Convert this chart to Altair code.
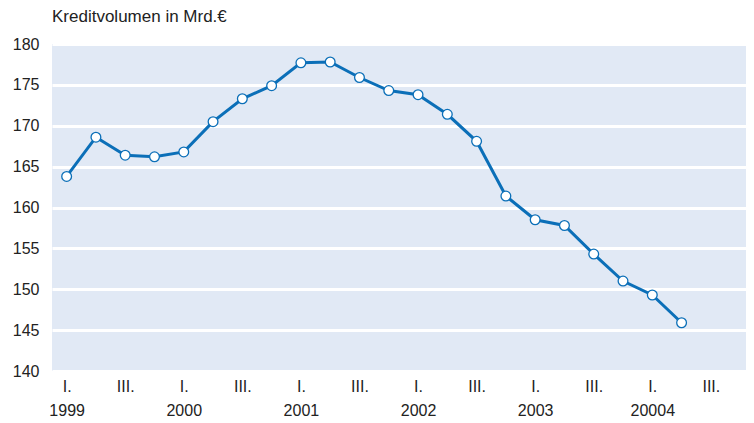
import json
import altair as alt
import pandas as pd

quarters = list(range(22))
values = [163.8, 168.6, 166.4, 166.2, 166.8, 170.5, 173.3, 174.9, 177.7, 177.8,
          175.9, 174.3, 173.8, 171.4, 168.1, 161.4, 158.5, 157.8, 154.3, 151.0,
          149.3, 145.9]
tick_quarter = ["I.", "III.", "I.", "III.", "I.", "III.", "I.", "III.", "I.", "III.", "I.", "III."]
tick_year = ["1999", "", "2000", "", "2001", "", "2002", "", "2003", "", "20004", ""]
tick_positions = [0, 2, 4, 6, 8, 10, 12, 14, 16, 18, 20, 22]

df = pd.DataFrame({"q": quarters, "v": values})
label_pairs = [[a, b] for a, b in zip(tick_quarter, tick_year)]
label_expr = json.dumps(label_pairs) + "[round(datum.value / 2)]"

blue = "#0b6fb8"
font = "Liberation Sans"

x = alt.X("q:Q",
          scale=alt.Scale(domain=[-0.5, 23.2], nice=False, zero=False),
          axis=alt.Axis(values=tick_positions, labelExpr=label_expr, title=None,
                        grid=False, domain=False, ticks=False, labelFontSize=16,
                        labelColor="#222222", labelFont=font, labelPadding=7,
                        labelLineHeight=24, labelBaseline="top"))
y = alt.Y("v:Q",
          scale=alt.Scale(domain=[140, 180], nice=False, zero=False),
          axis=alt.Axis(values=[140, 145, 150, 155, 160, 165, 170, 175, 180], title=None,
                        grid=True, gridColor="white", gridWidth=3, domain=False,
                        ticks=False, labelFontSize=16, labelColor="#222222",
                        labelFont=font, labelPadding=13, minExtent=44, maxExtent=44))

line = alt.Chart(df).mark_line(color=blue, strokeWidth=3).encode(x=x, y=y)
pts = alt.Chart(df).mark_point(filled=True, fill="white", stroke=blue, strokeWidth=1.3,
                               size=95, opacity=1).encode(x=x, y=y)

chart = (line + pts).properties(
    width=694, height=327,
    background="white",
    padding={"left": 0, "top": 0, "right": 0, "bottom": 0},
    title=alt.TitleParams("Kreditvolumen in Mrd.€", anchor="start", frame="group",
                          fontSize=17, fontWeight="normal", color="#222222",
                          font=font, offset=10),
).configure_view(fill="#e1e9f5", stroke=None)

chart.save("out.html", embed_options={"renderer": "svg", "actions": False})
